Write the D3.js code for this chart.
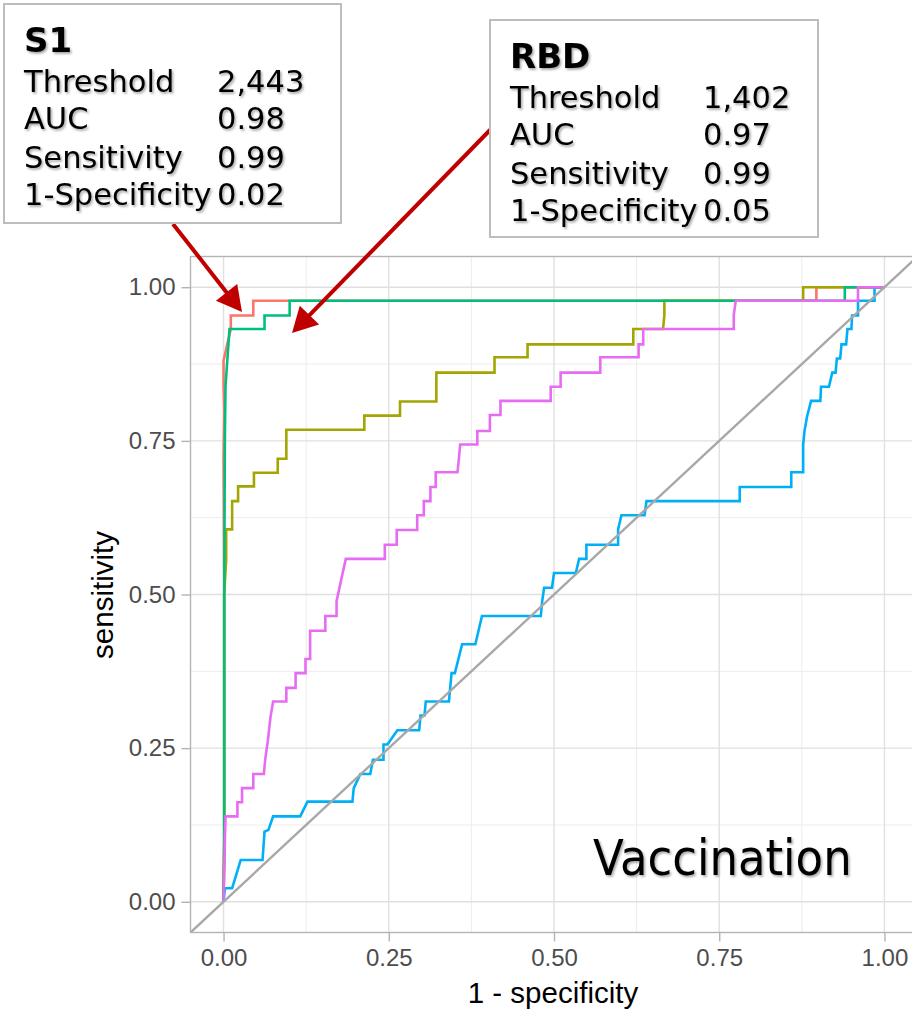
<!DOCTYPE html>
<html>
<head>
<meta charset="utf-8">
<title>ROC - Vaccination</title>
<script src="https://cdn.jsdelivr.net/npm/d3@7"></script>
<style>
  body { margin: 0; background: #fff; }
  svg { display: block; }
</style>
</head>
<body>
<div id="root"></div>
<script>
// ROC curves, points are [1 - specificity, sensitivity]
const rocS1 = [[0,0],[0.001,0.1],[0.001,0.5],[0.0,0.72],[0.001,0.8],[0.0,0.84],[0.0,0.88],[0.004,0.9],[0.011,0.932],[0.011,0.954],[0.045,0.954],[0.045,0.978],[0.897,0.978],[0.897,1],[1,1]];
const rocOlive = [[0,0],[0.001,0.1],[0.001,0.5],[0.004,0.557],[0.004,0.606],[0.013,0.606],[0.013,0.652],[0.022,0.652],[0.022,0.676],[0.046,0.676],[0.046,0.698],[0.082,0.698],[0.082,0.721],[0.095,0.721],[0.095,0.768],[0.213,0.768],[0.213,0.791],[0.267,0.791],[0.267,0.814],[0.322,0.814],[0.322,0.861],[0.41,0.861],[0.41,0.886],[0.46,0.886],[0.46,0.907],[0.62,0.907],[0.62,0.932],[0.665,0.932],[0.667,0.955],[0.667,0.978],[0.877,0.978],[0.877,1],[1,1]];
const rocRBD = [[0,0],[0.001,0.1],[0.001,0.5],[0.002,0.75],[0.003,0.84],[0.009,0.932],[0.062,0.932],[0.062,0.954],[0.1,0.954],[0.1,0.978],[0.94,0.978],[0.94,1],[1,1]];
const rocBlue = [[0,0],[0.002,0.022],[0.013,0.022],[0.026,0.068],[0.059,0.068],[0.062,0.114],[0.068,0.117],[0.075,0.139],[0.116,0.139],[0.127,0.163],[0.195,0.163],[0.197,0.185],[0.207,0.208],[0.222,0.208],[0.226,0.231],[0.242,0.231],[0.242,0.256],[0.248,0.256],[0.263,0.279],[0.296,0.279],[0.298,0.303],[0.304,0.303],[0.306,0.326],[0.341,0.326],[0.343,0.349],[0.345,0.372],[0.35,0.372],[0.361,0.419],[0.381,0.419],[0.391,0.465],[0.48,0.465],[0.482,0.488],[0.485,0.511],[0.497,0.511],[0.5,0.535],[0.533,0.535],[0.538,0.558],[0.549,0.558],[0.549,0.581],[0.597,0.581],[0.597,0.606],[0.602,0.629],[0.637,0.629],[0.64,0.652],[0.781,0.652],[0.781,0.675],[0.859,0.675],[0.859,0.699],[0.877,0.699],[0.877,0.744],[0.879,0.766],[0.883,0.79],[0.889,0.815],[0.903,0.815],[0.904,0.838],[0.916,0.838],[0.921,0.861],[0.926,0.861],[0.928,0.884],[0.933,0.884],[0.935,0.907],[0.942,0.907],[0.944,0.932],[0.95,0.932],[0.951,0.954],[0.96,0.954],[0.96,0.978],[0.985,0.978],[0.985,1],[1,1]];
const rocPink = [[0,0],[0.002,0.1],[0.003,0.139],[0.021,0.139],[0.021,0.162],[0.028,0.162],[0.028,0.185],[0.045,0.185],[0.045,0.208],[0.061,0.208],[0.063,0.231],[0.067,0.262],[0.071,0.3],[0.075,0.326],[0.095,0.326],[0.095,0.348],[0.109,0.348],[0.109,0.372],[0.124,0.372],[0.124,0.395],[0.131,0.395],[0.131,0.441],[0.154,0.441],[0.154,0.465],[0.171,0.465],[0.171,0.489],[0.18,0.534],[0.185,0.558],[0.244,0.558],[0.244,0.581],[0.262,0.581],[0.262,0.605],[0.293,0.605],[0.293,0.629],[0.303,0.629],[0.303,0.652],[0.313,0.652],[0.313,0.675],[0.321,0.675],[0.321,0.699],[0.354,0.699],[0.356,0.72],[0.358,0.744],[0.384,0.744],[0.384,0.766],[0.403,0.766],[0.403,0.792],[0.419,0.792],[0.419,0.815],[0.495,0.815],[0.495,0.838],[0.51,0.838],[0.51,0.861],[0.57,0.861],[0.57,0.886],[0.628,0.886],[0.628,0.907],[0.635,0.907],[0.635,0.932],[0.772,0.932],[0.772,0.955],[0.775,0.978],[0.96,0.978],[0.96,1],[1,1]];

// drawing order = ggplot palette order
const curves = [rocS1, rocOlive, rocRBD, rocBlue, rocPink];
const curveColors = ["#F8766D", "#A3A500", "#00BF7D", "#00B0F6", "#E76BF3"];

const majorTicks = [0, 0.25, 0.5, 0.75, 1];
const minorTicks = [0.125, 0.375, 0.625, 0.875];

const s1Title = "S1";
const s1Rows = [["Threshold", "2,443"], ["AUC", "0.98"], ["Sensitivity", "0.99"], ["1-Specificity", "0.02"]];
const rbdTitle = "RBD";
const rbdRows = [["Threshold", "1,402"], ["AUC", "0.97"], ["Sensitivity", "0.99"], ["1-Specificity", "0.05"]];

//canvas
const width = 912;
const height = 1012;

const svg = d3.select("#root")
  .append("svg")
  .attr("width", width)
  .attr("height", height);

const defs = svg.append("defs");

//panel spans -0.05..1.05 on both axes (ggplot expansion)
const x = d3.scaleLinear().domain([-0.05, 1.05]).range([190.5, 917.5]);
const y = d3.scaleLinear().domain([-0.05, 1.05]).range([932.5, 256.5]);

defs.append("clipPath").attr("id", "panel")
  .append("rect")
  .attr("x", x(-0.05)).attr("y", y(1.05))
  .attr("width", x(1.05) - x(-0.05)).attr("height", y(-0.05) - y(1.05));

//soft shadow used on the annotation text
const shadow = defs.append("filter").attr("id", "shadow")
  .attr("x", "-10%").attr("y", "-10%").attr("width", "130%").attr("height", "140%");
shadow.append("feDropShadow")
  .attr("dx", 1.5).attr("dy", 1.8).attr("stdDeviation", 1.2)
  .attr("flood-color", "#000").attr("flood-opacity", 0.35);

const plot = svg.append("g").attr("clip-path", "url(#panel)");

//grid lines
plot.selectAll(".vminor").data(minorTicks).enter().append("line")
  .attr("x1", d => x(d)).attr("x2", d => x(d))
  .attr("y1", y(-0.05)).attr("y2", y(1.05))
  .attr("stroke", "#ececec").attr("stroke-width", 1);
plot.selectAll(".hminor").data(minorTicks).enter().append("line")
  .attr("y1", d => y(d)).attr("y2", d => y(d))
  .attr("x1", x(-0.05)).attr("x2", x(1.05))
  .attr("stroke", "#ececec").attr("stroke-width", 1);
plot.selectAll(".vmajor").data(majorTicks).enter().append("line")
  .attr("x1", d => x(d)).attr("x2", d => x(d))
  .attr("y1", y(-0.05)).attr("y2", y(1.05))
  .attr("stroke", "#e0e0e0").attr("stroke-width", 1.4);
plot.selectAll(".hmajor").data(majorTicks).enter().append("line")
  .attr("y1", d => y(d)).attr("y2", d => y(d))
  .attr("x1", x(-0.05)).attr("x2", x(1.05))
  .attr("stroke", "#e0e0e0").attr("stroke-width", 1.4);

//roc curves
const line = d3.line().x(d => x(d[0])).y(d => y(d[1]));

plot.selectAll(".roc").data(curves).enter().append("path")
  .attr("d", line)
  .attr("fill", "none")
  .attr("stroke", (d, i) => curveColors[i])
  .attr("stroke-width", 2.6);

//reference diagonal
plot.append("line")
  .attr("x1", x(-0.05)).attr("y1", y(-0.05))
  .attr("x2", x(1.05)).attr("y2", y(1.05))
  .attr("stroke", "#a8a8a8").attr("stroke-width", 2.4);

//panel border
svg.append("rect")
  .attr("x", x(-0.05)).attr("y", y(1.05))
  .attr("width", x(1.05) - x(-0.05)).attr("height", y(-0.05) - y(1.05))
  .attr("fill", "none").attr("stroke", "#b3b3b3").attr("stroke-width", 1.4);

//axes
const fmt = d3.format(".2f");

const xAxis = svg.append("g")
  .attr("transform", "translate(0," + y(-0.05) + ")")
  .call(d3.axisBottom(x).tickValues(majorTicks).tickFormat(fmt).tickSize(9).tickPadding(7));

const yAxis = svg.append("g")
  .attr("transform", "translate(" + x(-0.05) + ",0)")
  .call(d3.axisLeft(y).tickValues(majorTicks).tickFormat(fmt).tickSize(9).tickPadding(6));

[xAxis, yAxis].forEach(g => {
  g.select(".domain").remove();
  g.selectAll(".tick line").attr("stroke", "#b3b3b3").attr("stroke-width", 1.4);
  g.selectAll(".tick text")
    .attr("fill", "#4d4d4d")
    .style("font-family", "'Liberation Sans', Arial, sans-serif")
    .style("font-size", "24px");
});

//axis titles
svg.append("text")
  .attr("x", 553)
  .attr("y", 1003)
  .attr("text-anchor", "middle")
  .style("font-family", "'Liberation Sans', Arial, sans-serif")
  .style("font-size", "29.5px")
  .text("1 - specificity");

svg.append("text")
  .attr("transform", "translate(113,595) rotate(-90)")
  .attr("text-anchor", "middle")
  .style("font-family", "'Liberation Sans', Arial, sans-serif")
  .style("font-size", "29.5px")
  .text("sensitivity");

//panel label
svg.append("text")
  .attr("x", 593)
  .attr("y", 875)
  .attr("filter", "url(#shadow)")
  .style("font-family", "'DejaVu Sans Condensed', 'DejaVu Sans', sans-serif")
  .style("font-size", "50px")
  .text("Vaccination");

//red arrows from the boxes to the curves
function arrow(x1, y1, x2, y2) {
  const len = Math.hypot(x2 - x1, y2 - y1);
  const ux = (x2 - x1) / len, uy = (y2 - y1) / len;
  const headLen = 25, headHalf = 13.5;
  const bx = x2 - ux * headLen, by = y2 - uy * headLen;
  svg.append("line")
    .attr("x1", x1).attr("y1", y1)
    .attr("x2", bx + ux * 2).attr("y2", by + uy * 2)
    .attr("stroke", "#c00000").attr("stroke-width", 4);
  svg.append("polygon")
    .attr("points", [
      [x2, y2],
      [bx - uy * headHalf, by + ux * headHalf],
      [bx + uy * headHalf, by - ux * headHalf]
    ].map(p => p.join(",")).join(" "))
    .attr("fill", "#c00000");
}
arrow(173, 224, 242, 312);
arrow(492, 128, 292, 333);

//annotation boxes
function infoBox(bx, by, bw, bh, title, rows) {
  const g = svg.append("g");
  g.append("rect")
    .attr("x", bx).attr("y", by)
    .attr("width", bw).attr("height", bh)
    .attr("fill", "#fff")
    .attr("stroke", "#bdbdbd").attr("stroke-width", 2);

  const t = g.append("g").attr("filter", "url(#shadow)");
  t.append("text")
    .attr("x", bx + 20).attr("y", by + 48)
    .style("font-family", "'DejaVu Sans', Verdana, sans-serif")
    .style("font-size", "34px")
    .style("font-weight", "bold")
    .text(title);

  const baselines = [88, 125, 164, 201];
  rows.forEach((r, i) => {
    t.append("text")
      .attr("x", bx + 20).attr("y", by + baselines[i])
      .style("font-family", "'DejaVu Sans', Verdana, sans-serif")
      .style("font-size", "30.5px")
      .text(r[0]);
    t.append("text")
      .attr("x", bx + 213).attr("y", by + baselines[i])
      .style("font-family", "'DejaVu Sans', Verdana, sans-serif")
      .style("font-size", "30.5px")
      .text(r[1]);
  });
}
infoBox(4, 4, 337, 219, s1Title, s1Rows);
infoBox(490, 20, 328, 217, rbdTitle, rbdRows);
</script>
</body>
</html>
